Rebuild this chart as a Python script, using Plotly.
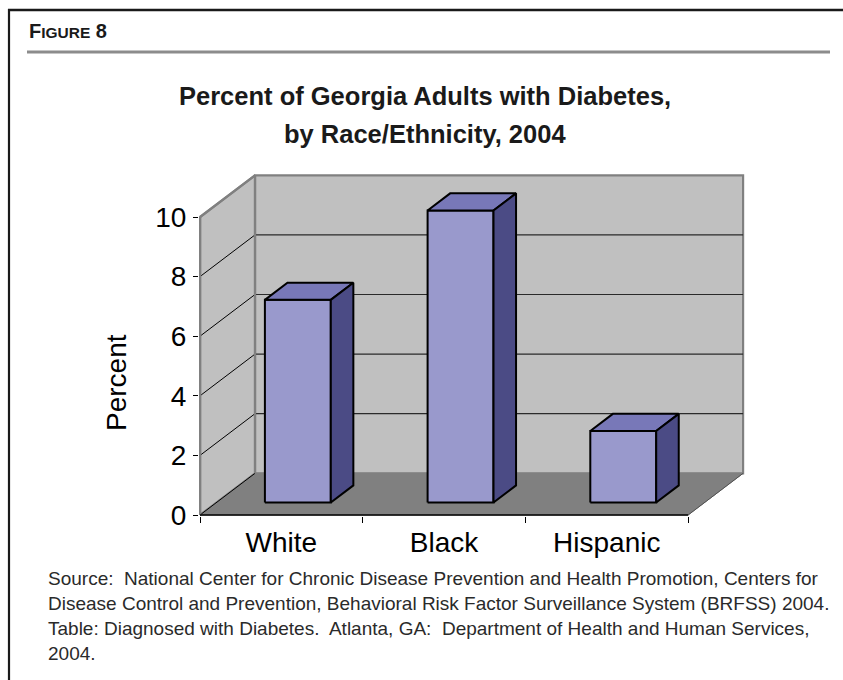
import plotly.graph_objects as go

# ---------------- data ----------------
categories = ["White", "Black", "Hispanic"]
percent_values = [6.8, 9.8, 2.4]
y_tick_values = [0, 2, 4, 6, 8, 10]
y_tick_labels = ["0", "2", "4", "6", "8", "10"]
title_lines = ["Percent of Georgia Adults with Diabetes,", "by Race/Ethnicity, 2004"]
source_lines = [
    "Source:  National Center for Chronic Disease Prevention and Health Promotion, Centers for",
    "Disease Control and Prevention, Behavioral Risk Factor Surveillance System (BRFSS) 2004.",
    "Table: Diagnosed with Diabetes.  Atlanta, GA:  Department of Health and Human Services,",
    "2004.",
]
y_axis_title = "Percent"
figure_label = "F<span style='font-size:15.5px'>IGURE</span> 8"

# ---------------- geometry / style ----------------
W, H = 843, 680
PLOT_L, PLOT_R, PLOT_T, PLOT_B = 199, 760, 165, 516
X0PX, Y0PX = 200, 515          # pixel of data origin
XUNIT, YUNIT = 162.7, 29.8     # px per category, px per percent
DX, DY = 55 / XUNIT, 41.7 / YUNIT   # 3D depth vector in data units
YMAX = 10
BAR_W = 0.405
F0, F1 = 0.30, 0.71            # bar depth span as fraction of depth

WALL = "#C0C0C0"
FLOOR = "#808080"
EDGE = "#808080"
FRONT = "#9999CC"
TOP = "#7878B8"
SIDE = "#4B4B85"

SANS = "Liberation Sans, Arial, Helvetica, sans-serif"

x_range = [(PLOT_L - X0PX) / XUNIT, (PLOT_R - X0PX) / XUNIT]
y_range = [(Y0PX - PLOT_B) / YUNIT, (Y0PX - PLOT_T) / YUNIT]


def px_x(px):
    return (px - PLOT_L) / (PLOT_R - PLOT_L)


def px_y(py):
    return (PLOT_B - py) / (PLOT_B - PLOT_T)


n = len(categories)
fig = go.Figure()


def poly(xs, ys, fill, line_color, line_width):
    fig.add_trace(go.Scatter(
        x=xs + [xs[0]], y=ys + [ys[0]], mode="lines", fill="toself",
        fillcolor=fill, line=dict(color=line_color, width=line_width),
        hoverinfo="skip", showlegend=False))


def seg(xs, ys, color, width):
    fig.add_trace(go.Scatter(
        x=xs, y=ys, mode="lines", line=dict(color=color, width=width),
        hoverinfo="skip", showlegend=False))


# back wall
poly([DX, n + DX, n + DX, DX], [DY, DY, YMAX + DY, YMAX + DY], WALL, EDGE, 2.2)
# left wall
poly([0, DX, DX, 0], [0, DY, YMAX + DY, YMAX], WALL, EDGE, 2.2)
# floor
poly([0, n, n + DX, DX], [0, 0, DY, DY], FLOOR, FLOOR, 1)
# floor right edge
seg([n, n + DX], [0, DY], "#505050", 1)

# gridlines on back wall
for v in y_tick_values[1:-1]:
    seg([DX, n + DX], [v + DY, v + DY], "#2a2a2a", 1.2)
# gridlines on left wall (diagonals)
for v in y_tick_values:
    seg([0, DX], [v, v + DY], "#000000", 1)

# wall edges redrawn on top
seg([DX, DX], [DY, YMAX + DY], EDGE, 2.2)
seg([0, 0], [0, YMAX], EDGE, 2.6)
seg([0, DX], [YMAX, YMAX + DY], EDGE, 2.2)
# x axis line (front floor edge)
seg([0, n], [0, 0], "#000000", 1.3)

# bars
ddx, ddy = (F1 - F0) * DX, (F1 - F0) * DY
for i, v in enumerate(percent_values):
    xl = i + 0.5 - BAR_W / 2 + F0 * DX
    xr = xl + BAR_W
    yb = F0 * DY
    yt = yb + v
    poly([xl, xr, xr, xl], [yb, yb, yt, yt], FRONT, "#000000", 2)
    poly([xl, xr, xr + ddx, xl + ddx], [yt, yt, yt + ddy, yt + ddy], TOP, "#000000", 2)
    poly([xr, xr + ddx, xr + ddx, xr], [yb, yb + ddy, yt + ddy, yt], SIDE, "#000000", 2)

# ---------------- layout ----------------
fig.update_layout(
    width=W, height=H,
    margin=dict(l=PLOT_L, r=W - PLOT_R, t=PLOT_T, b=H - PLOT_B, pad=0),
    paper_bgcolor="white", plot_bgcolor="rgba(0,0,0,0)",
    showlegend=False,
    xaxis=dict(
        range=x_range, showgrid=False, zeroline=False, showline=False,
        tickmode="array", tickvals=[i + 0.5 for i in range(n)], ticktext=categories,
        ticks="", tickfont=dict(family=SANS, size=28, color="#000000"),
        ticklabelstandoff=7,
        minor=dict(tickmode="array", tickvals=list(range(n + 1)), ticks="outside",
                   ticklen=6, tickwidth=1, tickcolor="#000000", showgrid=False),
        fixedrange=True,
    ),
    yaxis=dict(
        range=y_range, showgrid=False, zeroline=False, showline=False,
        tickmode="array", tickvals=y_tick_values, ticktext=y_tick_labels,
        ticks="outside", ticklen=5, tickwidth=1, tickcolor="#000000",
        tickfont=dict(family=SANS, size=28, color="#000000"),
        ticklabelstandoff=1,
        fixedrange=True,
    ),
)

annotations = []
# y-axis title
annotations.append(dict(
    text=y_axis_title, xref="paper", yref="paper", x=px_x(116), y=px_y(383),
    xanchor="center", yanchor="middle", textangle=-90, showarrow=False,
    font=dict(family=SANS, size=28, color="#000000")))
# figure label
annotations.append(dict(
    text=figure_label, xref="paper", yref="paper", x=px_x(27), y=px_y(31),
    xanchor="left", yanchor="middle", showarrow=False,
    font=dict(family=SANS, size=20, color="#1a1a1a", weight="bold")))
# title lines
for line, cy in zip(title_lines, [96, 134]):
    annotations.append(dict(
        text=line, xref="paper", yref="paper", x=px_x(425), y=px_y(cy),
        xanchor="center", yanchor="middle", showarrow=False,
        font=dict(family=SANS, size=25.5, color="#1a1a1a", weight="bold")))
# source lines
for line, cy in zip(source_lines, [578, 603, 628, 653]):
    annotations.append(dict(
        text=line, xref="paper", yref="paper", x=px_x(46), y=px_y(cy),
        xanchor="left", yanchor="middle", showarrow=False,
        font=dict(family=SANS, size=19, color="#2a2a2a")))
fig.update_layout(annotations=annotations)

# frame and rule (decoration)
fig.add_shape(type="line", xref="paper", yref="paper",
              x0=px_x(8), x1=px_x(W + 2), y0=px_y(10), y1=px_y(10),
              line=dict(color="#1a1a1a", width=2.5))
fig.add_shape(type="line", xref="paper", yref="paper",
              x0=px_x(9), x1=px_x(9), y0=px_y(9), y1=px_y(H + 2),
              line=dict(color="#1a1a1a", width=2.2))
fig.add_shape(type="line", xref="paper", yref="paper",
              x0=px_x(27), x1=px_x(830), y0=px_y(52), y1=px_y(52),
              line=dict(color="#8c8c8c", width=3))

fig.write_html("out.html")
